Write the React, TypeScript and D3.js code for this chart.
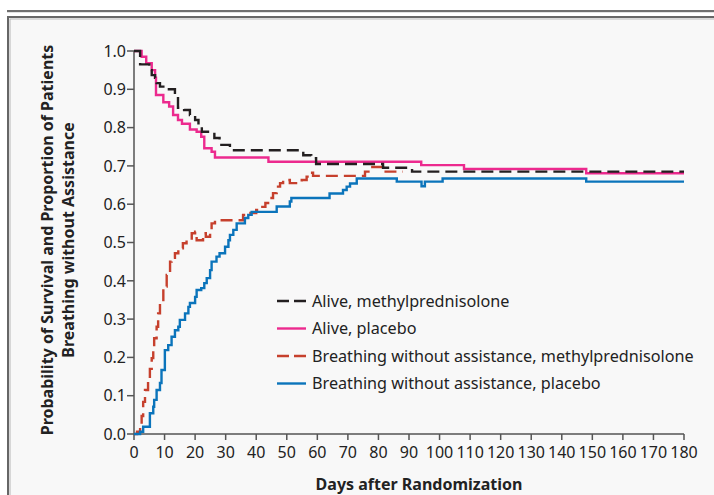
import React from "react";
import * as d3 from "d3";

type Pt = [number, number];

const aliveMethyl: Pt[] = [
  [0, 1.0], [2, 0.965], [5, 0.95], [5.8, 0.937], [6.9, 0.93], [7.4, 0.916], [8.5, 0.907],
  [9.6, 0.9], [13.4, 0.885], [14.4, 0.852], [16.4, 0.846], [18.3, 0.833], [20, 0.82],
  [21.1, 0.807], [22.2, 0.789], [26.3, 0.773], [28, 0.755], [31.4, 0.741], [55.4, 0.728],
  [58, 0.72], [59.6, 0.705], [81.5, 0.695], [91, 0.685], [180, 0.685],
];

const alivePlacebo: Pt[] = [
  [0, 1.0], [2.5, 0.985], [4, 0.968], [5.8, 0.95], [6.9, 0.93], [7.2, 0.885], [9.6, 0.866],
  [11.5, 0.855], [12.8, 0.833], [14.4, 0.82], [15.7, 0.81], [18.3, 0.795], [20.5, 0.789],
  [22, 0.776], [23, 0.746], [25.4, 0.737], [26.5, 0.722], [44, 0.711], [94, 0.702],
  [108, 0.692], [148, 0.681], [180, 0.681],
];

const breathMethyl: Pt[] = [
  [0, 0], [1, 0.006], [2, 0.023], [2.5, 0.047], [3, 0.084], [3.6, 0.115], [4.6, 0.14],
  [5.2, 0.17], [5.8, 0.198], [6.3, 0.225], [6.6, 0.25], [7.4, 0.28], [7.9, 0.315],
  [8.5, 0.342], [9.6, 0.385], [10.7, 0.415], [11.8, 0.45], [12.3, 0.46], [13.4, 0.472],
  [14.5, 0.485], [16, 0.498], [17.2, 0.506], [18.9, 0.524], [20, 0.528], [20.5, 0.506],
  [22.6, 0.524], [23.5, 0.515], [24.9, 0.528], [25.4, 0.55], [26.5, 0.558], [35.7, 0.572],
  [37.3, 0.577], [40, 0.585], [41, 0.593], [43, 0.603], [44.5, 0.616], [45.5, 0.629],
  [46.7, 0.646], [47.8, 0.655], [48.8, 0.663], [51, 0.655], [54.9, 0.663], [56.5, 0.672],
  [57.6, 0.682], [58.6, 0.674], [75.6, 0.685], [78, 0.697], [81.5, 0.685], [88, 0.685],
];

const breathPlacebo: Pt[] = [
  [0, 0], [2, 0.006], [3, 0.019], [5.2, 0.054], [6.3, 0.071], [6.6, 0.089], [7.4, 0.115],
  [8.5, 0.133], [9, 0.167], [10.1, 0.219], [11.2, 0.232], [12.3, 0.254], [13.4, 0.271],
  [14.5, 0.28], [15, 0.298], [16.7, 0.315], [17.8, 0.332], [18.3, 0.342], [20, 0.358],
  [20.5, 0.376], [22, 0.381], [23, 0.394], [23.8, 0.407], [24.9, 0.428], [25.4, 0.45],
  [27, 0.463], [28, 0.472], [29.8, 0.489], [30.9, 0.506], [31.4, 0.52], [32.5, 0.533],
  [33.6, 0.55], [36.3, 0.564], [37.4, 0.572], [38.5, 0.58], [46.7, 0.594], [51, 0.607],
  [51.5, 0.616], [64, 0.628], [68.4, 0.637], [69.6, 0.646], [70.7, 0.654], [72.9, 0.667],
  [86, 0.659], [94.1, 0.647], [95.2, 0.659], [101, 0.667], [148, 0.659], [180, 0.659],
];

const xTicks = d3.range(0, 181, 10);
const yTicks = d3.range(0, 1.01, 0.1);

const seriesNames = [
  "Alive, methylprednisolone",
  "Alive, placebo",
  "Breathing without assistance, methylprednisolone",
  "Breathing without assistance, placebo",
];

const FONT = "'Noto Sans', 'Open Sans', sans-serif";

export default function App() {
  const W = 714, H = 495;
  const x = d3.scaleLinear().domain([0, 180]).range([134, 684]);
  const y = d3.scaleLinear().domain([0, 1]).range([434, 51]);
  const line = d3.line<Pt>().x(d => x(d[0])).y(d => y(d[1])).curve(d3.curveStepAfter);

  const styles = [
    { color: "#231f20", dash: "12,6" },
    { color: "#ec2a8e", dash: "" },
    { color: "#c6402d", dash: "12,6" },
    { color: "#0b74bb", dash: "" },
  ];
  const data = [aliveMethyl, alivePlacebo, breathMethyl, breathPlacebo];
  const drawOrder = [2, 3, 1, 0];
  const legendY = [301, 328.5, 356, 383.5];

  return (
    <svg width={W} height={H} style={{ position: "absolute", left: 0, top: 0, background: "#ffffff" }}>
      <rect x={7} y={10} width={W - 7} height={2.2} fill="#6e6e6e" />
      <rect x={8} y={17} width={W + 10} height={H} fill="#f8f8f8" stroke="#666" strokeWidth={2} />
      <rect x={10} y={19} width={W + 10} height={H} fill="none" stroke="#b5b5b5" strokeWidth={1} />

      {/* axes */}
      <g stroke="#555" strokeWidth={1.5} fill="none">
        <line x1={134} x2={134} y1={y(1)} y2={y(0)} />
        <line x1={134} x2={x(180)} y1={434} y2={434} />
        {yTicks.map(t => (
          <line key={"yt" + t} x1={127} x2={134} y1={y(t)} y2={y(t)} />
        ))}
        {xTicks.map(t => (
          <line key={"xt" + t} x1={x(t)} x2={x(t)} y1={434} y2={440} />
        ))}
      </g>
      <g fontFamily={FONT} fontSize={16} fill="#222">
        {yTicks.map(t => (
          <text key={"yl" + t} x={126} y={y(t)} dy="0.36em" textAnchor="end">{t.toFixed(1)}</text>
        ))}
        {xTicks.map(t => (
          <text key={"xl" + t} x={x(t)} y={458} textAnchor="middle">{t}</text>
        ))}
      </g>
      <text x={419} y={490} textAnchor="middle" fontFamily={FONT} fontWeight="bold" fontSize={16} fill="#222">
        Days after Randomization
      </text>
      <g transform="translate(0,240) rotate(-90)" fontFamily={FONT} fontWeight="bold" fontSize={16} fill="#222" textAnchor="middle">
        <text x={0} y={52.5}>Probability of Survival and Proportion of Patients</text>
        <text x={0} y={73.5}>Breathing without Assistance</text>
      </g>

      {/* curves */}
      {drawOrder.map(i => (
        <path key={"c" + i} d={line(data[i]) || ""} fill="none" stroke={styles[i].color}
          strokeWidth={2.4} strokeDasharray={styles[i].dash || undefined} />
      ))}

      {/* legend */}
      {seriesNames.map((n, i) => (
        <g key={"lg" + i}>
          <line x1={277} x2={306} y1={legendY[i]} y2={legendY[i]} stroke={styles[i].color}
            strokeWidth={2.4} strokeDasharray={styles[i].dash ? "12,5" : undefined} />
          <text x={312} y={legendY[i]} dy="0.36em" fontFamily={FONT} fontSize={16.2} fill="#222">{n}</text>
        </g>
      ))}
    </svg>
  );
}
